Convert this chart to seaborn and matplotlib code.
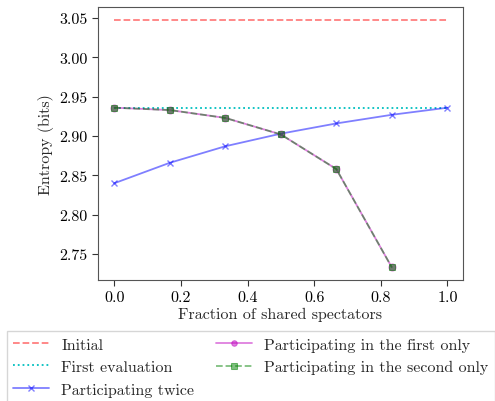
import numpy as np
import pandas as pd
import seaborn as sns
import matplotlib
matplotlib.use("Agg")
import matplotlib.pyplot as plt

# data
fraction = [0.0, 1/6, 2/6, 3/6, 4/6, 5/6, 1.0]
initial = [3.047] * 7
first_eval = [2.936] * 7
twice = [2.840, 2.866, 2.887, 2.903, 2.916, 2.927, 2.936]
first_only = [2.936, 2.933, 2.923, 2.902, 2.858, 2.733]
second_only = [2.936, 2.933, 2.923, 2.902, 2.858, 2.733]

sns.set_style("ticks")
plt.rcParams['font.family'] = ['cmr10', 'DejaVu Serif']
plt.rcParams['axes.formatter.use_mathtext'] = True
plt.rcParams['mathtext.fontset'] = 'cm'
plt.rcParams['font.size'] = 11.5

fig = plt.figure(figsize=(4.95, 4.02), dpi=100)
ax = fig.add_axes([98/495, 1 - 281/402, 365/495, 273/402])

df = pd.DataFrame({'x': fraction, 'initial': initial, 'first_eval': first_eval, 'twice': twice})
df2 = pd.DataFrame({'x': fraction[:6], 'first_only': first_only, 'second_only': second_only})

sns.lineplot(data=df, x='x', y='initial', ax=ax, color='r', linestyle='--', alpha=0.5,
             label='Initial', lw=1.3)
sns.lineplot(data=df, x='x', y='first_eval', ax=ax, color='c', linestyle=':', alpha=1.0,
             label='First evaluation', lw=1.3)
sns.lineplot(data=df, x='x', y='twice', ax=ax, color='b', marker='x', alpha=0.5,
             label='Participating twice', lw=1.3, markersize=5, markeredgecolor='b', mew=1)
sns.lineplot(data=df2, x='x', y='first_only', ax=ax, color='m', marker='o', alpha=0.5,
             label='Participating in the first only', lw=1.3, markersize=5, markeredgecolor='m')
sns.lineplot(data=df2, x='x', y='second_only', ax=ax, color='g', marker='s', linestyle='--', alpha=0.5,
             label='Participating in the second only', lw=1.3, markersize=5, markeredgecolor='g')

ax.set_xlim(-0.049, 1.047)
ax.set_ylim(2.717, 3.064)
ax.set_xticks([0.0, 0.2, 0.4, 0.6, 0.8, 1.0])
ax.set_yticks([2.75, 2.80, 2.85, 2.90, 2.95, 3.00, 3.05])
ax.set_yticklabels(['2.75', '2.80', '2.85', '2.90', '2.95', '3.00', '3.05'])
ax.set_xticklabels(['0.0', '0.2', '0.4', '0.6', '0.8', '1.0'])
ax.set_xlabel('Fraction of shared spectators', labelpad=2)
ax.set_ylabel('Entropy (bits)')
for s in ax.spines.values():
    s.set_color('#555555')
ax.tick_params(colors='#333333', labelcolor='black', length=4)

handles, labels = ax.get_legend_handles_labels()
ax.get_legend().remove()
fig.legend(handles, labels, ncol=2,
           loc='upper left', bbox_to_anchor=(7/495, 0, 488/495, 1 - 332/402),
           mode='expand', frameon=True, fancybox=False, fontsize=11.5,
           handlelength=2.2, handletextpad=0.8, labelspacing=0.52, borderaxespad=0.0,
           columnspacing=1.6, markerscale=0.8, edgecolor='#cccccc')

fig.savefig('out.png', dpi=100)
